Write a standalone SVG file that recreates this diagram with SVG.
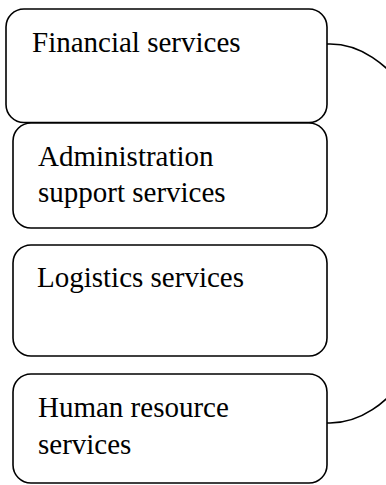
<svg xmlns="http://www.w3.org/2000/svg" width="386" height="485" viewBox="0 0 386 485">
  <style>
    .box { fill: #ffffff; stroke: #000000; stroke-width: 1.6; }
    .label { font-family: "Liberation Serif", "Times New Roman", serif; font-size: 29px; fill: #000000; }
    .link { fill: none; stroke: #000000; stroke-width: 1.6; }
  </style>
  <rect width="386" height="485" fill="#ffffff"/>

  <!-- bracket joining the first and last service boxes -->
  <g id="connectors">
    <path class="link" d="M327,44 L330,44 A115,189.5 0 0 1 330,423 L327,423"/>
  </g>

  <g id="financial">
    <rect class="box" x="6" y="9" width="321" height="113.5" rx="18" ry="18"/>
    <text class="label" x="32" y="52">Financial services</text>
  </g>

  <g id="administration">
    <rect class="box" x="13" y="123" width="314" height="105" rx="18" ry="18"/>
    <text class="label" x="38" y="166">Administration</text>
    <text class="label" x="38" y="202">support services</text>
  </g>

  <g id="logistics">
    <rect class="box" x="13" y="245" width="314" height="111" rx="18" ry="18"/>
    <text class="label" x="37" y="287">Logistics services</text>
  </g>

  <g id="human-resource">
    <rect class="box" x="13" y="374" width="314" height="109" rx="18" ry="18"/>
    <text class="label" x="38" y="417">Human resource</text>
    <text class="label" x="38" y="454">services</text>
  </g>
</svg>
